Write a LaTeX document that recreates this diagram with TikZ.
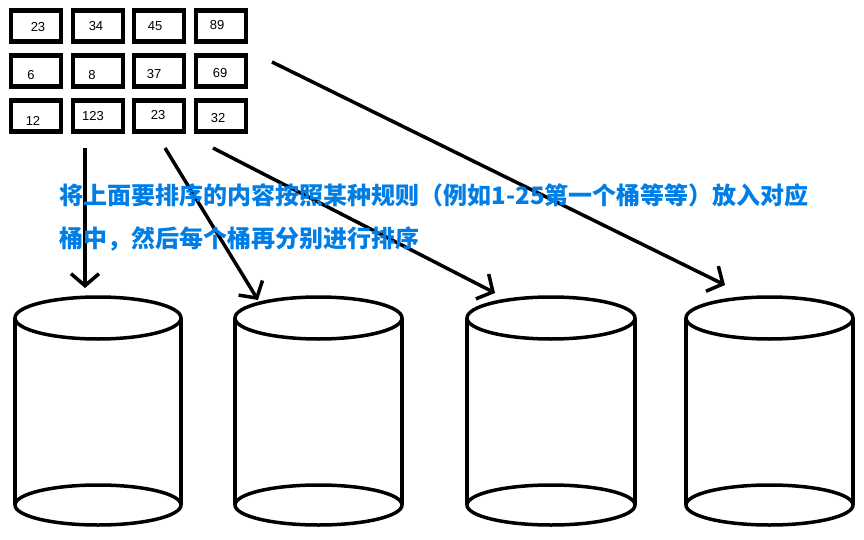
\documentclass[tikz,border=0pt]{standalone}
\usepackage{fontspec}
\setmainfont{Liberation Sans}
\newfontfamily\cjk{Noto Sans CJK SC}
\usetikzlibrary{arrows.meta}
\begin{document}
\begin{tikzpicture}[x=1pt,y=-1pt,line width=3.5pt,
  cell/.style={draw,line width=4.5pt,minimum width=50pt,minimum height=31pt,inner sep=0pt,font=\fontsize{13}{15}\selectfont},
  arr/.style={line width=3.5pt,-{Straight Barb[length=12pt,width=28pt]}}]
\useasboundingbox (0,0) rectangle (864,540);
% grid
\foreach \r/\y in {1/26,2/71,3/116}{
  \foreach \c/\x in {1/36,2/98,3/159,4/221}{
    \node[cell] (g\r\c) at (\x,\y) {};
  }
}
\node at (38,27) {\fontsize{13}{15}\selectfont 23};
\node at (96,26) {\fontsize{13}{15}\selectfont 34};
\node at (155,26) {\fontsize{13}{15}\selectfont 45};
\node at (217,25) {\fontsize{13}{15}\selectfont 89};
\node at (31,75) {\fontsize{13}{15}\selectfont 6};
\node at (92,75) {\fontsize{13}{15}\selectfont 8};
\node at (154,74) {\fontsize{13}{15}\selectfont 37};
\node at (220,73) {\fontsize{13}{15}\selectfont 69};
\node at (33,121) {\fontsize{13}{15}\selectfont 12};
\node at (93,116) {\fontsize{13}{15}\selectfont 123};
\node at (158,115) {\fontsize{13}{15}\selectfont 23};
\node at (218,118) {\fontsize{13}{15}\selectfont 32};
% cylinders
\foreach \i/\xa/\xb in {1/15/181,2/235/402,3/467/635,4/686/853}{
  \pgfmathsetmacro\cx{(\xa+\xb)/2}
  \pgfmathsetmacro\rx{(\xb-\xa)/2}
  \draw (\cx,318) ellipse [x radius=\rx, y radius=21];
  \draw (\cx,505) ellipse [x radius=\rx, y radius=20];
  \draw (\xa,318) -- (\xa,505) (\xb,318) -- (\xb,505);
  \coordinate (c\i) at (\cx,318);
}
% arrows
\coordinate (s1) at (85,148); \coordinate (e1) at (85,288);
\coordinate (s2) at (165,148); \coordinate (e2) at (258,300);
\coordinate (s3) at (213,148); \coordinate (e3) at (495,293);
\coordinate (s4) at (272,62); \coordinate (e4) at (725,285);
\draw[arr] (s1) -- (e1);
\draw[arr] (s2) -- (e2);
\draw[arr] (s3) -- (e3);
\draw[arr] (s4) -- (e4);
% text
\node[anchor=north west,inner sep=0pt,text=blue!45!cyan!90!black,align=left,font=\cjk\bfseries\fontsize{24}{43}\selectfont] (t) at (58,182)
 {将上面要排序的内容按照某种规则（例如1-25第一个桶等等）放入对应\\桶中，然后每个桶再分别进行排序};
\end{tikzpicture}
\end{document}
